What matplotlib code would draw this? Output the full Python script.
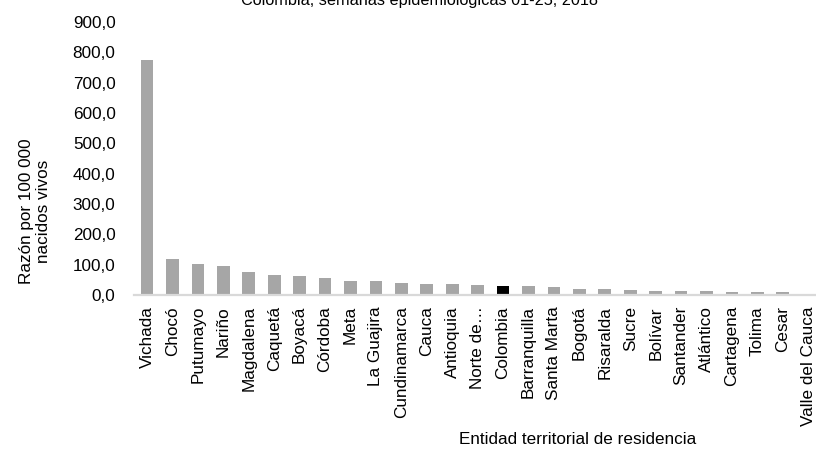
import matplotlib
matplotlib.use("Agg")
import matplotlib.pyplot as plt
from matplotlib.ticker import FuncFormatter

# ---- Data ----
entidades = ["Vichada", "Chocó", "Putumayo", "Nariño", "Magdalena", "Caquetá",
             "Boyacá", "Córdoba", "Meta", "La Guajira", "Cundinamarca", "Cauca",
             "Antioquia", "Norte de…", "Colombia", "Barranquilla", "Santa Marta",
             "Bogotá", "Risaralda", "Sucre", "Bolívar", "Santander", "Atlántico",
             "Cartagena", "Tolima", "Cesar", "Valle del Cauca"]
razon = [774, 120, 103, 95, 76, 65, 61, 55, 45, 45, 38, 36, 35, 33, 30, 29, 25,
         21, 20, 15, 13, 13, 12, 10, 10, 9, 3]
y_ticks = [0, 100, 200, 300, 400, 500, 600, 700, 800, 900]

plt.rcParams['font.family'] = ['Liberation Sans', 'DejaVu Sans']

GRAY = '#a6a6a6'
colors = ['#000000' if e == "Colombia" else GRAY for e in entidades]

W, H = 816, 453
fig = plt.figure(figsize=(W / 100, H / 100), dpi=100)
# axes in pixel terms: left 134, right 821 (cropped), bottom 295, top 22
ax = fig.add_axes([134.3 / W, 1 - 295 / H, (821 - 134.3) / W, (295 - 22) / H])

x = range(len(entidades))
ax.bar(x, razon, width=0.5, color=colors)

ax.set_xlim(-0.5, len(entidades) - 0.5)
ax.set_ylim(0, 900)
ax.set_yticks(y_ticks)
ax.yaxis.set_major_formatter(FuncFormatter(lambda v, _: f"{v:.1f}".replace('.', ',')))
ax.set_xticks(list(x))
ax.set_xticklabels(entidades, rotation=90, ha='center', va='top')
ax.tick_params(axis='both', length=0, labelsize=12.3, colors='#000000')
ax.tick_params(axis='y', pad=13.5)
ax.tick_params(axis='x', pad=8)

for s in ['top', 'right', 'left']:
    ax.spines[s].set_visible(False)
ax.spines['bottom'].set_color('#d9d9d9')
ax.spines['bottom'].set_linewidth(1.6)

ax.set_ylabel("Razón por 100 000\nnacidos vivos", fontsize=12.3, va='center',
              ha='center', linespacing=1.1)
ax.yaxis.set_label_coords(-0.1446, 0.308)
ax.set_xlabel("Entidad territorial de residencia", fontsize=12.3, va='center')
ax.xaxis.set_label_coords(0.646, -0.531)

# title, cut off by the top edge as in the reference
fig.text(420 / W, 1 - 5 / H, "Colombia, semanas epidemiológicas 01-25, 2018",
         fontsize=11.7, ha='center', va='baseline')

fig.savefig("out.png", dpi=100)
